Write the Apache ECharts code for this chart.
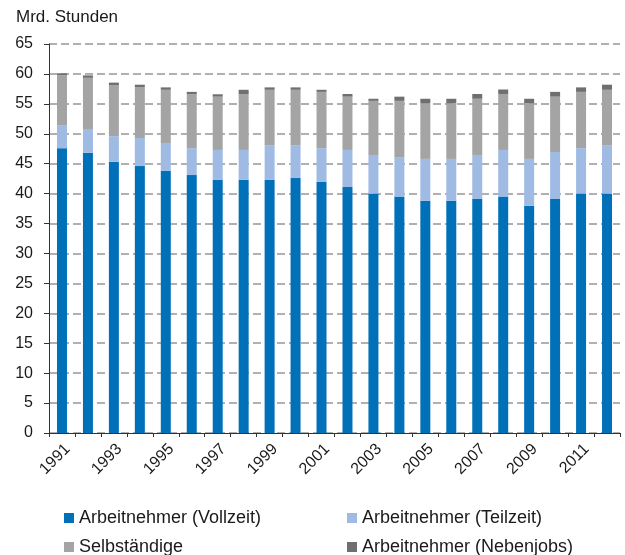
<!DOCTYPE html>
<html>
<head>
<meta charset="utf-8">
<script src="https://cdn.jsdelivr.net/npm/echarts@6/dist/echarts.min.js"></script>
<style>
  html, body { margin: 0; padding: 0; background: #fff; }
  #chart { width: 625px; height: 555px; }
</style>
</head>
<body>
<div id="chart"></div>
<script>
// Jahre und Arbeitsvolumen in Mrd. Stunden
var years = ['1991', '1992', '1993', '1994', '1995', '1996', '1997', '1998', '1999', '2000', '2001',
             '2002', '2003', '2004', '2005', '2006', '2007', '2008', '2009', '2010', '2011', '2012'];
var vollzeit = [47.6, 46.8, 45.3, 44.6, 43.8, 43.1, 42.3, 42.3, 42.3, 42.6, 41.95,
                41.1, 40.0, 39.5, 38.8, 38.8, 39.1, 39.5, 37.95, 39.1, 40.0, 40.0];
var teilzeit = [3.85, 4.0, 4.3, 4.7, 4.65, 4.5, 5.0, 5.0, 5.8, 5.5, 5.65,
                6.2, 6.45, 6.6, 7.0, 7.0, 7.35, 7.8, 7.85, 7.85, 7.6, 8.1];
var selbstaendige = [8.35, 8.55, 8.55, 8.5, 8.9, 9.0, 8.9, 9.3, 9.25, 9.25, 9.4,
                     8.9, 9.05, 9.4, 9.3, 9.3, 9.4, 9.35, 9.3, 9.25, 9.4, 9.25];
var nebenjobs = [0.3, 0.4, 0.4, 0.4, 0.4, 0.4, 0.4, 0.75, 0.4, 0.4, 0.35,
                 0.45, 0.35, 0.7, 0.75, 0.75, 0.8, 0.75, 0.75, 0.8, 0.75, 0.85];

var font = 'Liberation Sans, Arial, Helvetica, sans-serif';
var textColor = '#1a1a1a';

var chart = echarts.init(document.getElementById('chart'));

function bar(name, data, color) {
    return {
        name: name,
        type: 'bar',
        stack: 'total',
        barWidth: 10,
        data: data,
        itemStyle: { color: color },
        emphasis: { disabled: true }
    };
}

// one legend per entry, so the 2x2 layout is fixed
function legendItem(name, left, top) {
    return {
        left: left,
        top: top,
        itemWidth: 10,
        itemHeight: 10,
        icon: 'rect',
        selectedMode: false,
        textStyle: { fontFamily: font, fontSize: 18, color: textColor },
        data: [name]
    };
}

chart.setOption({
    animation: false,
    title: {
        text: 'Mrd. Stunden',
        left: 11,
        top: 4,
        textStyle: { fontFamily: font, fontSize: 17, fontWeight: 'normal', color: textColor }
    },
    legend: [
        legendItem('Arbeitnehmer (Vollzeit)', 59, 504),
        legendItem('Selbständige', 59, 533),
        legendItem('Arbeitnehmer (Teilzeit)', 342, 504),
        legendItem('Arbeitnehmer (Nebenjobs)', 342, 533)
    ],
    grid: {
        left: 49,
        right: 5,
        top: 44,
        bottom: 122
    },
    xAxis: {
        type: 'category',
        data: years,
        axisLine: { lineStyle: { color: '#333', width: 1 } },
        axisTick: { show: true, interval: 0, length: 4, lineStyle: { color: '#333' } },
        axisLabel: {
            interval: 1,
            rotate: 45,
            margin: 8,
            verticalAlign: 'top',
            fontFamily: font,
            fontSize: 16,
            color: textColor
        }
    },
    yAxis: {
        type: 'value',
        min: 0,
        max: 65,
        interval: 5,
        axisLine: { show: true, lineStyle: { color: '#333', width: 1 } },
        axisTick: { show: true, length: 5, lineStyle: { color: '#333' } },
        axisLabel: { margin: 16, fontFamily: font, fontSize: 16, color: textColor },
        splitLine: { show: true, lineStyle: { color: '#b0b0b0', width: 2, type: [8, 4] } }
    },
    series: [
        bar('Arbeitnehmer (Vollzeit)', vollzeit, '#0071b9'),
        bar('Arbeitnehmer (Teilzeit)', teilzeit, '#9fbbe4'),
        bar('Selbständige', selbstaendige, '#a3a4a3'),
        bar('Arbeitnehmer (Nebenjobs)', nebenjobs, '#6f6f6f')
    ]
});
</script>
</body>
</html>
